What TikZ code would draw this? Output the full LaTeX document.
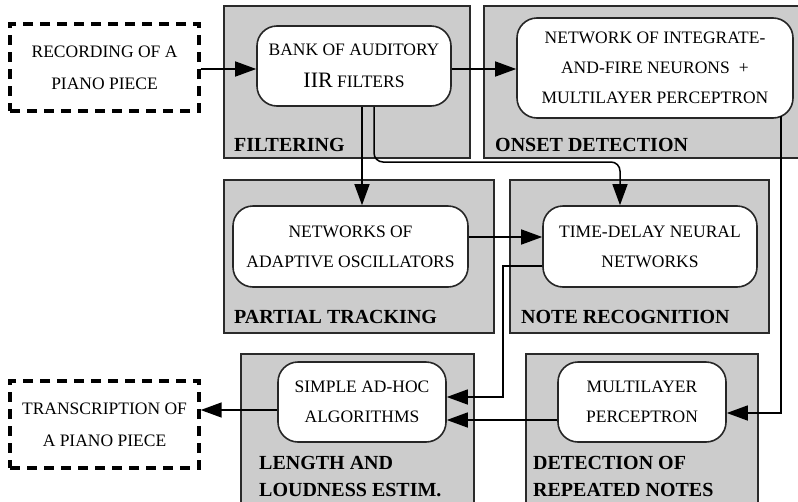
\documentclass[tikz,border=0pt]{standalone}
\usepackage{fontspec}
\setmainfont{Liberation Serif}
\usetikzlibrary{arrows.meta,calc}
\definecolor{panelgray}{HTML}{CCCCCC}
\definecolor{edgegray}{HTML}{2A2A2A}
\tikzset{
  panel/.style={draw=edgegray, fill=panelgray, line width=1.6pt, anchor=north west, inner sep=0pt},
  proc/.style={draw=black!85, fill=white, line width=1.6pt, rounded corners=20pt, align=center,
    font=\fontsize{17.5}{30}\selectfont, inner sep=0pt},
  iobox/.style={draw=black, line width=3.4pt, dash pattern=on 10pt off 7pt, align=center,
    font=\fontsize{17.5}{32}\selectfont, inner sep=0pt},
  lbl/.style={anchor=west, align=left, font=\fontsize{20}{27}\selectfont\bfseries, inner sep=0pt},
  conn/.style={line width=1.5pt, -{Triangle[length=21pt,width=15pt]}},
}
\begin{document}
\begin{tikzpicture}[x=1pt,y=-1pt]
\clip (0,0) rectangle (798,501);
\fill[white] (0,0) rectangle (798,501);
% panels
\node[panel, minimum width=246pt, minimum height=152pt] (pfilt) at (223,5) {};
\node[panel, minimum width=330pt, minimum height=152pt] (ponset) at (483,5) {};
\node[panel, minimum width=270pt, minimum height=153pt] (ppart) at (223,179) {};
\node[panel, minimum width=259pt, minimum height=153pt] (pnote) at (509,179) {};
\node[panel, minimum width=233pt, minimum height=170pt] (plen) at (240,353) {};
\node[panel, minimum width=232pt, minimum height=170pt] (prep) at (525,353) {};
% panel labels
\node[lbl] (lfilt) at (234,145) {FILTERING};
\node[lbl] (lonset) at (495,145) {ONSET DETECTION};
\node[lbl] (lpart) at (234,317) {PARTIAL TRACKING};
\node[lbl] (lnote) at (521,317) {NOTE RECOGNITION};
\node[lbl] (llen) at (259,476.5) {LENGTH AND\\LOUDNESS ESTIM.};
\node[lbl] (lrep) at (533,476.5) {DETECTION OF\\REPEATED NOTES};
% boxes
\node[iobox, minimum width=189pt, minimum height=87pt] (rec) at (104.5,67.5) {RECORDING OF A\\PIANO PIECE};
\node[proc, minimum width=194pt, minimum height=80pt] (bank) at (354,66) {BANK OF AUDITORY\\[2pt]{\fontsize{22}{30}\selectfont IIR} FILTERS};
\node[proc, minimum width=276pt, minimum height=100pt] (net) at (655,68) {NETWORK OF INTEGRATE-\\AND-FIRE NEURONS \;+\\MULTILAYER PERCEPTRON};
\node[proc, minimum width=235pt, minimum height=81pt] (adapt) at (350.5,246.5) {NETWORKS OF\\ADAPTIVE OSCILLATORS};
\node[proc, minimum width=214pt, minimum height=81pt] (tdnn) at (650,246.5) {TIME-DELAY NEURAL\\NETWORKS};
\node[proc, minimum width=168pt, minimum height=80pt] (adhoc) at (362,402) {SIMPLE AD-HOC\\ALGORITHMS};
\node[proc, minimum width=168pt, minimum height=80pt] (mlp) at (642,402) {MULTILAYER\\PERCEPTRON};
\node[iobox, minimum width=189pt, minimum height=87pt] (trans) at (104.5,424.5) {TRANSCRIPTION OF\\A PIANO PIECE};
% helper coordinates
\coordinate (bend) at (0,162);
\coordinate (j6) at (503,397);
% connectors
\draw[conn] ([yshift=-1.5pt]rec.east) -- ([yshift=-1.5pt]rec.east -| bank.west);
\draw[conn] ([yshift=-3pt]bank.east) -- ([yshift=-3pt]bank.east -| net.west);
\draw[conn] ([xshift=8pt]bank.south) -- ([xshift=8pt]bank.south |- adapt.north);
\draw[conn, rounded corners=9pt] ([xshift=20pt]bank.south) -- ([xshift=20pt]bank.south |- bend)
  -- ([xshift=-30pt]tdnn.north |- bend) -- ([xshift=-30pt]tdnn.north);
\draw[conn] ([yshift=9.5pt]adapt.east) -- ([yshift=9.5pt]adapt.east -| tdnn.west);
\draw[conn] ([yshift=-19.5pt]tdnn.west) -| (j6) -- (j6 -| adhoc.east);
\draw[conn] ([xshift=-13pt,yshift=3pt]net.south east) |- ([yshift=-11pt]mlp.east);
\draw[conn] ([yshift=-18pt]mlp.west) -- ([yshift=-18pt]mlp.west -| adhoc.east);
\draw[conn] ([yshift=-8pt]adhoc.west) -- ([yshift=-8pt]adhoc.west -| trans.east);
\end{tikzpicture}
\end{document}
